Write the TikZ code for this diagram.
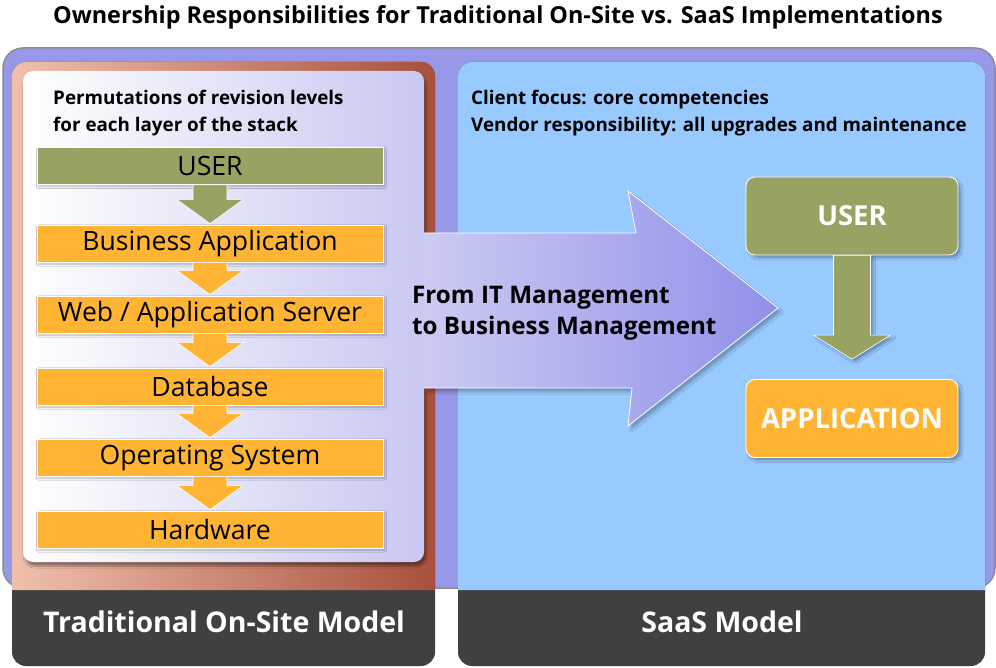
\documentclass[tikz,border=0pt]{standalone}
\usepackage{fontspec}
\setmainfont{Open Sans}
\usepackage{tikz}
\usetikzlibrary{shadows.blur}

\definecolor{outerpurple}{RGB}{152,152,232}
\definecolor{saasblue}{RGB}{153,202,255}
\definecolor{darkgrey}{RGB}{64,64,64}
\definecolor{userolive}{RGB}{152,162,98}
\definecolor{barorange}{RGB}{255,180,52}
\definecolor{panelL}{RGB}{240,192,172}
\definecolor{panelM}{RGB}{226,138,98}
\definecolor{panelR}{RGB}{168,80,60}
\definecolor{lavender}{RGB}{200,200,242}

\begin{document}
\begin{tikzpicture}[x=1pt, y=-1pt,
  bar/.style={fill=barorange, draw=white, line width=0.8pt, minimum width=346pt,
    minimum height=37pt, inner sep=0pt, font=\fontsize{26.6}{30}\selectfont,
    blur shadow={shadow xshift=1.5pt, shadow yshift=-2pt, shadow opacity=25, shadow blur steps=5}},
  saasbox/.style={draw=white, line width=0.8pt, rounded corners=9pt, minimum width=212pt,
    minimum height=78pt, inner sep=0pt, text=white, font=\fontsize{27.5}{30}\selectfont\bfseries,
    blur shadow={shadow xshift=3pt, shadow yshift=-3pt, shadow opacity=30}},
  panellabel/.style={text=white, font=\fontsize{28.5}{32}\selectfont\bfseries},
  note/.style={anchor=north west, align=left, inner sep=0pt, font=\fontsize{18.8}{27}\selectfont\bfseries}]
\useasboundingbox (0,0) rectangle (996,668);

%%%%% Title %%%%%
\node[font=\fontsize{23.4}{27}\selectfont\bfseries] (title) at (498,17)
  {Ownership Responsibilities for Traditional On-Site vs. SaaS Implementations};

%%%%% Panels %%%%%
\draw[fill=outerpurple, draw=gray!90, line width=1.5pt, rounded corners=20pt] (3,48) rectangle (995,588);
\fill[darkgrey, rounded corners=14pt] (12,62) rectangle (435,666);
\fill[darkgrey, rounded corners=14pt] (458,62) rectangle (985,666);
\shade[left color=panelL, middle color=panelM, right color=panelR]
  (12,590) [rounded corners=14pt] -- (12,62) -- (435,62) [sharp corners] -- (435,590) -- cycle;
\fill[saasblue] (458,590) [rounded corners=14pt] -- (458,62) -- (985,62) [sharp corners] -- (985,590) -- cycle;
\node[panellabel] (oldlabel) at (224,622) {Traditional On-Site Model};
\node[panellabel] (saaslabel) at (722,622) {SaaS Model};

%%%%% Left stack %%%%%
\node[rounded corners=10pt, left color=white, right color=lavender, minimum width=401pt, minimum height=491pt,
  blur shadow={shadow xshift=2pt, shadow yshift=-4pt, shadow opacity=40}] (stackbox) at (223.5,316.5) {};
\node[note] (permtext) at (53,90) {Permutations of revision levels\\for each layer of the stack};
\node[bar, fill=userolive] (s0) at (210,166) {USER};
\foreach \n/\y/\t in {1/243.5/Business Application, 2/314.5/{Web / Application Server},
  3/386.5/Database, 4/457.5/Operating System, 5/529.5/Hardware}
  \node[bar] (s\n) at (210,\y) {\t};
\foreach \a/\b in {0/1,1/2,2/3,3/4,4/5}{
  \ifnum\a=0 \def\arrcol{userolive}\else\def\arrcol{barorange}\fi
  \filldraw[fill=\arrcol, draw=white, line width=0.6pt]
    ([shift={(-17,0)}]s\a.south) -- ([shift={(-17,-25)}]s\b.north) -- ([shift={(-33,-25)}]s\b.north)
    -- ([shift={(0,-1)}]s\b.north) -- ([shift={(33,-25)}]s\b.north) -- ([shift={(17,-25)}]s\b.north)
    -- ([shift={(17,0)}]s\a.south) -- cycle;
}

%%%%% Big arrow %%%%%
\shade[left color=lavender!95!white, right color=outerpurple!95!blue,
  blur shadow={shadow xshift=3pt, shadow yshift=-4pt, shadow opacity=25}]
  (stackbox.east |- 0,233) -- (636,233) -- (628,191) -- (778,308) -- (628,426) -- (632,388)
  -- (stackbox.east |- 0,388) -- cycle;
\draw[white, line width=0.8pt] (stackbox.east |- 0,233) -- (636,233) -- (628,191) -- (778,308)
  -- (628,426) -- (632,388) -- (stackbox.east |- 0,388);
\node[anchor=west, align=left, inner sep=0pt, font=\fontsize{24.2}{31}\selectfont\bfseries] (shift) at (412,313)
  {From IT Management\\to Business Management};

%%%%% SaaS side %%%%%
\node[note] (saastext) at (471,90) {Client focus: core competencies\\Vendor responsibility: all upgrades and maintenance};
\node[saasbox, fill=userolive] (saasuser) at (852,216) {USER};
\node[saasbox, fill=barorange] (saasapp) at (852,418.5) {APPLICATION};
\filldraw[fill=userolive, draw=white, line width=0.6pt,
  blur shadow={shadow xshift=3pt, shadow yshift=-3pt, shadow opacity=30}]
  ([shift={(-18.5,0)}]saasuser.south) -- ([shift={(-18.5,-44)}]saasapp.north) -- ([shift={(-38.5,-44)}]saasapp.north)
  -- ([shift={(0,-20)}]saasapp.north) -- ([shift={(38.5,-44)}]saasapp.north) -- ([shift={(18.5,-44)}]saasapp.north)
  -- ([shift={(18.5,0)}]saasuser.south) -- cycle;
\end{tikzpicture}
\end{document}
